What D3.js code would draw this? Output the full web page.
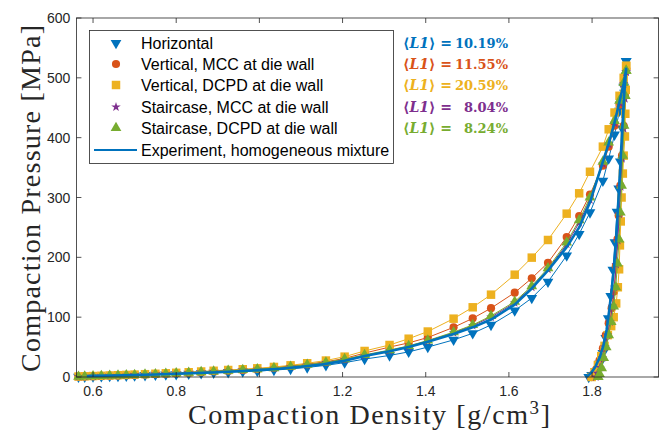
<!DOCTYPE html>
<html><head><meta charset="utf-8">
<script src="https://cdn.jsdelivr.net/npm/d3@7"></script>
<style>body{margin:0;background:#fff}svg{display:block}</style>
</head><body><svg id="c" width="660" height="431"></svg>
<script>
// ---- data ----
const seriesNames = ["Horizontal","Vertical, MCC at die wall","Vertical, DCPD at die wall","Staircase, MCC at die wall","Staircase, DCPD at die wall"];
const expName = "Experiment, homogeneous mixture";
const l1Labels = ["10.19%","11.55%","20.59%","8.04%","8.24%"];
const xTicks = [0.6,0.8,1.0,1.2,1.4,1.6,1.8];
const yTicks = [0,100,200,300,400,500,600];
// loading-phase densities (g/cm3) shared by markers
const loadDensity = [0.565,0.58,0.60,0.62,0.64,0.66,0.68,0.70,0.725,0.75,0.775,0.80,0.83,0.86,0.89,0.925,0.96,0.995,1.035,1.075,1.115,1.16,1.205,
  1.253,1.313,1.359,1.405,1.467,1.513,1.557,1.614,1.655,1.694,1.739,1.769,1.795,1.826,1.84,1.854,1.866,1.876,1.882];
const loadHorizontal = [0.3,0.5,0.8,1.1,1.4,1.7,2.1,2.5,3,3.5,4,4.6,5.3,6,7,8,9,10,11.5,13.5,16,19.5,24,
  30,36,42,50,62,73,87,111,132,159,203,239,275,328,365,405,445,485,528];
const loadVertMCC = [0.7,1.0,1.4,1.8,2.3,2.7,3.2,3.7,4.4,5.1,5.8,6.6,7.6,8.7,9.8,11,12.3,13.7,15.8,18.3,21.5,25.5,31,
  40,50,57,66,83,98,115,141,165,191,234,269,305,353,385,420,455,490,515];
const loadVertDCPD = [0.8,1.2,1.6,2.0,2.5,3.0,3.5,4.0,4.7,5.4,6.2,7.0,8.0,9.2,10.4,11.7,13.0,14.5,16.8,19.5,23,27.5,34,
  43.5,53.5,64,76,97.5,116.5,137.6,171,199.5,229,273,307,343,385,414,442,470,500,520];
const loadStairMCC = [0.6,0.9,1.3,1.7,2.1,2.5,3.0,3.5,4.1,4.8,5.5,6.2,7.2,8.2,9.2,10.4,11.5,12.8,14.7,17,20,24,29,
  36,44,51,60,74,86,100,124,150,180,222,258,296,356,389,424,458,490,510];
const loadStairDCPD = [0.6,0.9,1.3,1.7,2.1,2.5,3.0,3.5,4.1,4.8,5.5,6.3,7.3,8.3,9.4,10.6,11.8,13.1,15,17.4,20.5,24.5,30,
  37,45,52,61,75,87,102,126,152,182,225,262,300,360,392,428,462,492,512];
// unloading phases: [density, pressure]
const unloadHorizontal = [[1.882,528],[1.878,475],[1.873,415],[1.868,360],[1.864,315],[1.860,276],[1.855,225],[1.850,179],[1.845,135],[1.839,98],[1.833,65],[1.826,40],[1.818,22],[1.809,10],[1.799,3],[1.792,0]];
const unloadVertMCC = [[1.882,515],[1.879,470],[1.876,420],[1.872,370],[1.868,320],[1.864,270],[1.861,230],[1.857,185],[1.853,143],[1.847,115],[1.840,90],[1.833,70],[1.826,48],[1.818,28],[1.810,13],[1.802,4],[1.797,0]];
const unloadVertDCPD = [[1.882,520],[1.881,480],[1.880,440],[1.879,402],[1.876,370],[1.874,340],[1.871,300],[1.869,260],[1.867,220],[1.865,180],[1.862,150],[1.858,123],[1.852,100],[1.846,85],[1.838,70],[1.830,52],[1.822,35],[1.814,20],[1.806,8],[1.799,0]];
const unloadStairMCC = [[1.882,510],[1.879,465],[1.876,415],[1.872,365],[1.869,318],[1.865,272],[1.862,228],[1.858,188],[1.854,150],[1.849,118],[1.843,92],[1.837,70],[1.831,50],[1.825,32],[1.819,16],[1.813,6],[1.809,0]];
const unloadStairDCPD = [[1.882,512],[1.880,470],[1.877,420],[1.874,370],[1.871,320],[1.868,275],[1.865,230],[1.861,190],[1.857,150],[1.852,118],[1.846,92],[1.840,70],[1.834,50],[1.828,32],[1.823,15],[1.818,5],[1.815,0]];
// experiment
const expDensity = [0.585,0.60,0.65,0.70,0.75,0.80,0.85,0.90,0.95,1.0,1.05,1.10,1.15,1.20,1.253,1.313,1.359,1.405,1.467,1.513,1.557,1.614,1.655,1.694,1.739,1.769,1.795,1.826,1.84,1.854,1.866,1.876,1.882,
  1.878,1.873,1.867,1.862,1.858,1.853,1.847,1.841,1.835,1.827,1.819,1.808,1.798,1.790,1.787];
const expPressure = [1.5,1.8,2.6,3.4,4.3,5.4,6.6,8.0,9.7,11.5,13.8,17,21,26.5,35,43,50,59,72,83,96,121,148,178,217,250,292,360,390,425,460,490,515,
  480,420,341,280,229,185,145,110,79,52,34,17,7,2,0];

const colors = ["#0072BD","#D95319","#EDB120","#7E2F8E","#77AC30"];
const loads = [loadHorizontal,loadVertMCC,loadVertDCPD,loadStairMCC,loadStairDCPD];
const unloads = [unloadHorizontal,unloadVertMCC,unloadVertDCPD,unloadStairMCC,unloadStairDCPD];

// ---- chart ----
const svg = d3.select("#c");
const x = d3.scaleLinear().domain([0.56,1.96]).range([76.4,658.6]);
const y = d3.scaleLinear().domain([0,600]).range([377,18]);
const axisCol = "#262626";

const symTypes = [
  {t:d3.symbolTriangle, s:50, rot:180},
  {t:d3.symbolCircle, s:52, rot:0},
  {t:d3.symbolSquare, s:72, rot:0},
  {t:d3.symbolStar, s:28, rot:0},
  {t:d3.symbolTriangle, s:50, rot:0}
];
const plot = svg.append("g");
const line = d3.line().x(d=>x(d[0])).y(d=>y(d[1]));
loads.forEach((ld,i)=>{
  const pts = loadDensity.map((d,k)=>[d,ld[k]]).concat(unloads[i]);
  plot.append("path").attr("d",line(pts)).attr("fill","none").attr("stroke",colors[i]).attr("stroke-width",1);
  const st = symTypes[i];
  plot.selectAll(null).data(pts).enter().append("path")
    .attr("d",d3.symbol().type(st.t).size(st.s))
    .attr("transform",d=>`translate(${x(d[0])},${y(d[1])}) rotate(${st.rot})`)
    .attr("fill",colors[i]).attr("stroke","none");
});
const expPts = expDensity.map((d,k)=>[d,expPressure[k]]);
plot.append("path").attr("d",line(expPts)).attr("fill","none").attr("stroke","#0072BD").attr("stroke-width",2.6).attr("stroke-linejoin","round");

// axes box
const [x0,x1] = x.range(), [y0,y1] = y.range();
svg.append("rect").attr("x",x0).attr("y",y1).attr("width",x1-x0).attr("height",y0-y1)
  .attr("fill","none").attr("stroke",axisCol).attr("stroke-width",0.8);
const tl = 5;
xTicks.forEach(t=>{
  svg.append("line").attr("x1",x(t)).attr("x2",x(t)).attr("y1",y0).attr("y2",y0-tl).attr("stroke",axisCol).attr("stroke-width",0.8);
  svg.append("line").attr("x1",x(t)).attr("x2",x(t)).attr("y1",y1).attr("y2",y1+tl).attr("stroke",axisCol).attr("stroke-width",0.8);
  svg.append("text").attr("x",x(t)).attr("y",y0+19).attr("text-anchor","middle")
    .attr("font-family","Liberation Sans, Arial, sans-serif").attr("font-size",14).attr("fill",axisCol).text(d3.format("~g")(t));
});
yTicks.forEach(t=>{
  svg.append("line").attr("x1",x0).attr("x2",x0+tl).attr("y1",y(t)).attr("y2",y(t)).attr("stroke",axisCol).attr("stroke-width",0.8);
  svg.append("line").attr("x1",x1).attr("x2",x1-tl).attr("y1",y(t)).attr("y2",y(t)).attr("stroke",axisCol).attr("stroke-width",0.8);
  svg.append("text").attr("x",x0-6).attr("y",y(t)+5).attr("text-anchor","end")
    .attr("font-family","Liberation Sans, Arial, sans-serif").attr("font-size",14).attr("fill",axisCol).text(t);
});
// axis labels
svg.append("text").attr("x",188).attr("y",424)
  .attr("font-family","Liberation Serif, Times New Roman, serif").attr("font-size",28).attr("fill",axisCol)
  .attr("textLength",362).attr("lengthAdjust","spacing")
  .html('Compaction Density [g/cm<tspan dy="-10" font-size="19">3</tspan><tspan dy="10">]</tspan>');
svg.append("text").attr("transform","translate(40,372) rotate(-90)")
  .attr("font-family","Liberation Serif, Times New Roman, serif").attr("font-size",28).attr("fill",axisCol)
  .attr("textLength",347).attr("lengthAdjust","spacing")
  .text("Compaction Pressure [MPa]");

// legend
const lg = svg.append("g");
lg.append("rect").attr("x",89.5).attr("y",30.5).attr("width",304).attr("height",133)
  .attr("fill","#fff").attr("stroke",axisCol).attr("stroke-width",0.8);
const rowY = [43,64,85,107,128,150];
seriesNames.forEach((n,i)=>{
  const st = symTypes[i];
  lg.append("path").attr("d",d3.symbol().type(st.t).size(st.s))
    .attr("transform",`translate(116,${rowY[i]}) rotate(${st.rot})`).attr("fill",colors[i]);
  lg.append("text").attr("x",141).attr("y",rowY[i]+5.5).attr("font-family","Liberation Sans, Arial, sans-serif")
    .attr("font-size",16).attr("fill","#000").text(n);
});
lg.append("line").attr("x1",94).attr("x2",137).attr("y1",rowY[5]).attr("y2",rowY[5]).attr("stroke","#0072BD").attr("stroke-width",2);
lg.append("text").attr("x",141).attr("y",rowY[5]+5.5).attr("font-family","Liberation Sans, Arial, sans-serif")
  .attr("font-size",16).attr("fill","#000").text(expName);

// L1 annotations
l1Labels.forEach((v,i)=>{
  const g = svg.append("g").attr("font-family","DejaVu Serif, Liberation Serif, serif").attr("font-weight","bold")
    .attr("fill",colors[i]);
  g.append("text").attr("x",403).attr("y",rowY[i]+5).attr("font-size",14)
    .html('⟨<tspan font-style="italic">L1</tspan>⟩');
  g.append("text").attr("x",446).attr("y",rowY[i]+5).attr("font-size",14).attr("text-anchor","middle").text("=");
  g.append("text").attr("x",508).attr("y",rowY[i]+5).attr("font-size",13).attr("text-anchor","end").text(v);
});
</script></body></html>
